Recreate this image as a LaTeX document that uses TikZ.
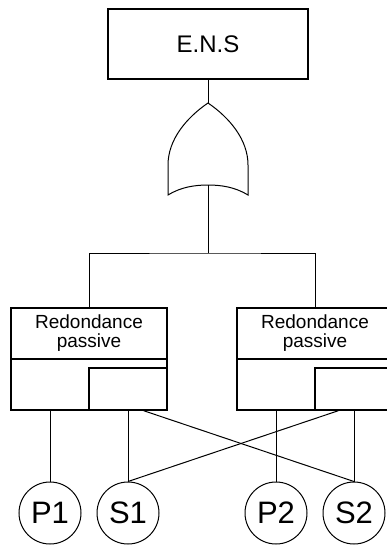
\documentclass[tikz,border=0pt]{standalone}
\usepackage{fontspec}
\setmainfont{Liberation Sans}
\begin{document}
\begin{tikzpicture}[x=1pt,y=-1pt,line width=1pt,
    box/.style={draw,rectangle,line width=1.5pt,inner sep=0pt},
    label/.style={rectangle,inner sep=0pt,align=center,font=\fontsize{19}{19}\selectfont},
    event/.style={draw,circle,line width=1pt,minimum size=62pt,inner sep=0pt,font=\fontsize{31}{31}\selectfont}]
  \useasboundingbox (0,0) rectangle (387,549);
  % top event
  \node[box,minimum width=200pt,minimum height=70pt,font=\fontsize{24}{24}\selectfont] (ens) at (208,44) {E.N.S};
  % or gate
  \coordinate (gtop) at (208,103);
  \coordinate (gbot) at (208,185);
  \draw (gtop) .. controls (230,118) and (248,140) .. (248,165) -- (248,195)
    .. controls (235,187) and (221,185) .. (gbot)
    .. controls (195,185) and (181,187) .. (168,195) -- (168,165)
    .. controls (168,140) and (186,118) .. (gtop);
  \coordinate (bus) at (208,253);
  % passive redundancy blocks
  \node[box,label,minimum width=156pt,minimum height=51pt] (rpa) at (89,333.5) {Redondance\\passive};
  \node[box,minimum width=156pt,minimum height=51pt] (rpabot) at (89,384.5) {};
  \node[box,minimum width=78pt,minimum height=42pt] (rpasp) at (128,389) {};
  \node[box,label,minimum width=156pt,minimum height=51pt] (rpb) at (315,333.5) {Redondance\\passive};
  \node[box,minimum width=156pt,minimum height=51pt] (rpbbot) at (315,384.5) {};
  \node[box,minimum width=78pt,minimum height=42pt] (rpbsp) at (354,389) {};
  % basic events
  \node[event] (p1) at (50,513) {P1};
  \node[event] (s1) at (128,513) {S1};
  \node[event] (p2) at (276,513) {P2};
  \node[event] (s2) at (354,513) {S2};
  \begin{scope}[-]
    \draw (ens.south) -- (gtop);
    \draw (gbot) -- (bus);
    \draw (rpa.north) |- (bus) -| (rpb.north);
    \draw (p1.north) -- (p1.north |- rpabot.south);
    \draw (s1.north) -- (rpasp.south);
    \draw (p2.north) -- (p2.north |- rpbbot.south);
    \draw (s2.north) -- (rpbsp.south);
    \draw (rpasp.-54) -- (s2.north);
    \draw (rpbsp.-126) -- (s1.north);
  \end{scope}
\end{tikzpicture}
\end{document}
